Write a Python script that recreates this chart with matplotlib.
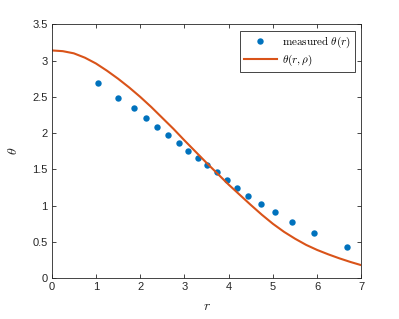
import matplotlib
matplotlib.use("Agg")
import matplotlib.pyplot as plt

# measured data
r_meas = [1.05, 1.50, 1.85, 2.12, 2.38, 2.63, 2.87, 3.07, 3.30, 3.51,
          3.73, 3.95, 4.19, 4.44, 4.72, 5.04, 5.43, 5.93, 6.68]
theta_meas = [2.69, 2.49, 2.34, 2.21, 2.09, 1.97, 1.86, 1.76, 1.66, 1.56,
              1.46, 1.35, 1.25, 1.14, 1.03, 0.91, 0.78, 0.62, 0.43]

# model curve theta(r, rho)
r_model = [0.0, 0.25, 0.5, 0.75, 1.0, 1.25, 1.5, 1.75, 2.0, 2.25, 2.5, 2.75,
           3.0, 3.25, 3.5, 3.75, 4.0, 4.25, 4.5, 4.75, 5.0, 5.25, 5.5, 5.75,
           6.0, 6.25, 6.5, 6.75, 7.0]
theta_model = [3.14, 3.13, 3.10, 3.04, 2.96, 2.86, 2.75, 2.63, 2.50, 2.36,
               2.21, 2.06, 1.90, 1.745, 1.59, 1.44, 1.29, 1.15, 1.01, 0.875,
               0.75, 0.64, 0.545, 0.46, 0.39, 0.33, 0.275, 0.225, 0.18]

xticks = [0, 1, 2, 3, 4, 5, 6, 7]
yticks = [0, 0.5, 1, 1.5, 2, 2.5, 3, 3.5]
ytick_labels = ["0", "0.5", "1", "1.5", "2", "2.5", "3", "3.5"]

plt.rcParams['mathtext.fontset'] = 'cm'
plt.rcParams['font.family'] = ['Liberation Sans', 'DejaVu Sans']

axc = (0.15, 0.15, 0.15)
fig = plt.figure(figsize=(3.99, 3.19), dpi=100)
ax = fig.add_axes([0.1296, 0.1276, 0.7764, 0.7962])

ax.plot(r_meas, theta_meas, 'o', color='#0072BD', markersize=4.6,
        markeredgewidth=0, label=r'$\mathrm{measured}\ \theta(r)$')
ax.plot(r_model, theta_model, '-', color='#D95319', linewidth=1.5,
        label=r'$\theta(r,\rho)$')

ax.set_xlim(0, 7)
ax.set_ylim(0, 3.5)
ax.set_xticks(xticks)
ax.set_yticks(yticks)
ax.set_yticklabels(ytick_labels)
ax.tick_params(direction='in', length=3, width=0.6, colors=axc,
               labelsize=8, top=True, right=True, pad=3)
for s in ax.spines.values():
    s.set_color(axc)
    s.set_linewidth(0.6)

ax.set_xlabel(r'$r$', fontsize=10, color=axc, labelpad=5)
ax.set_ylabel(r'$\theta$', fontsize=10, color=axc, labelpad=9)

leg = ax.legend(loc='upper right', fontsize=8, frameon=True, fancybox=False,
                edgecolor=axc, framealpha=1, borderpad=0.35, labelspacing=0.25,
                handlelength=2.9, handletextpad=0.5, borderaxespad=0.6)
leg.get_frame().set_linewidth(0.6)

fig.savefig('out.png', dpi=100)
